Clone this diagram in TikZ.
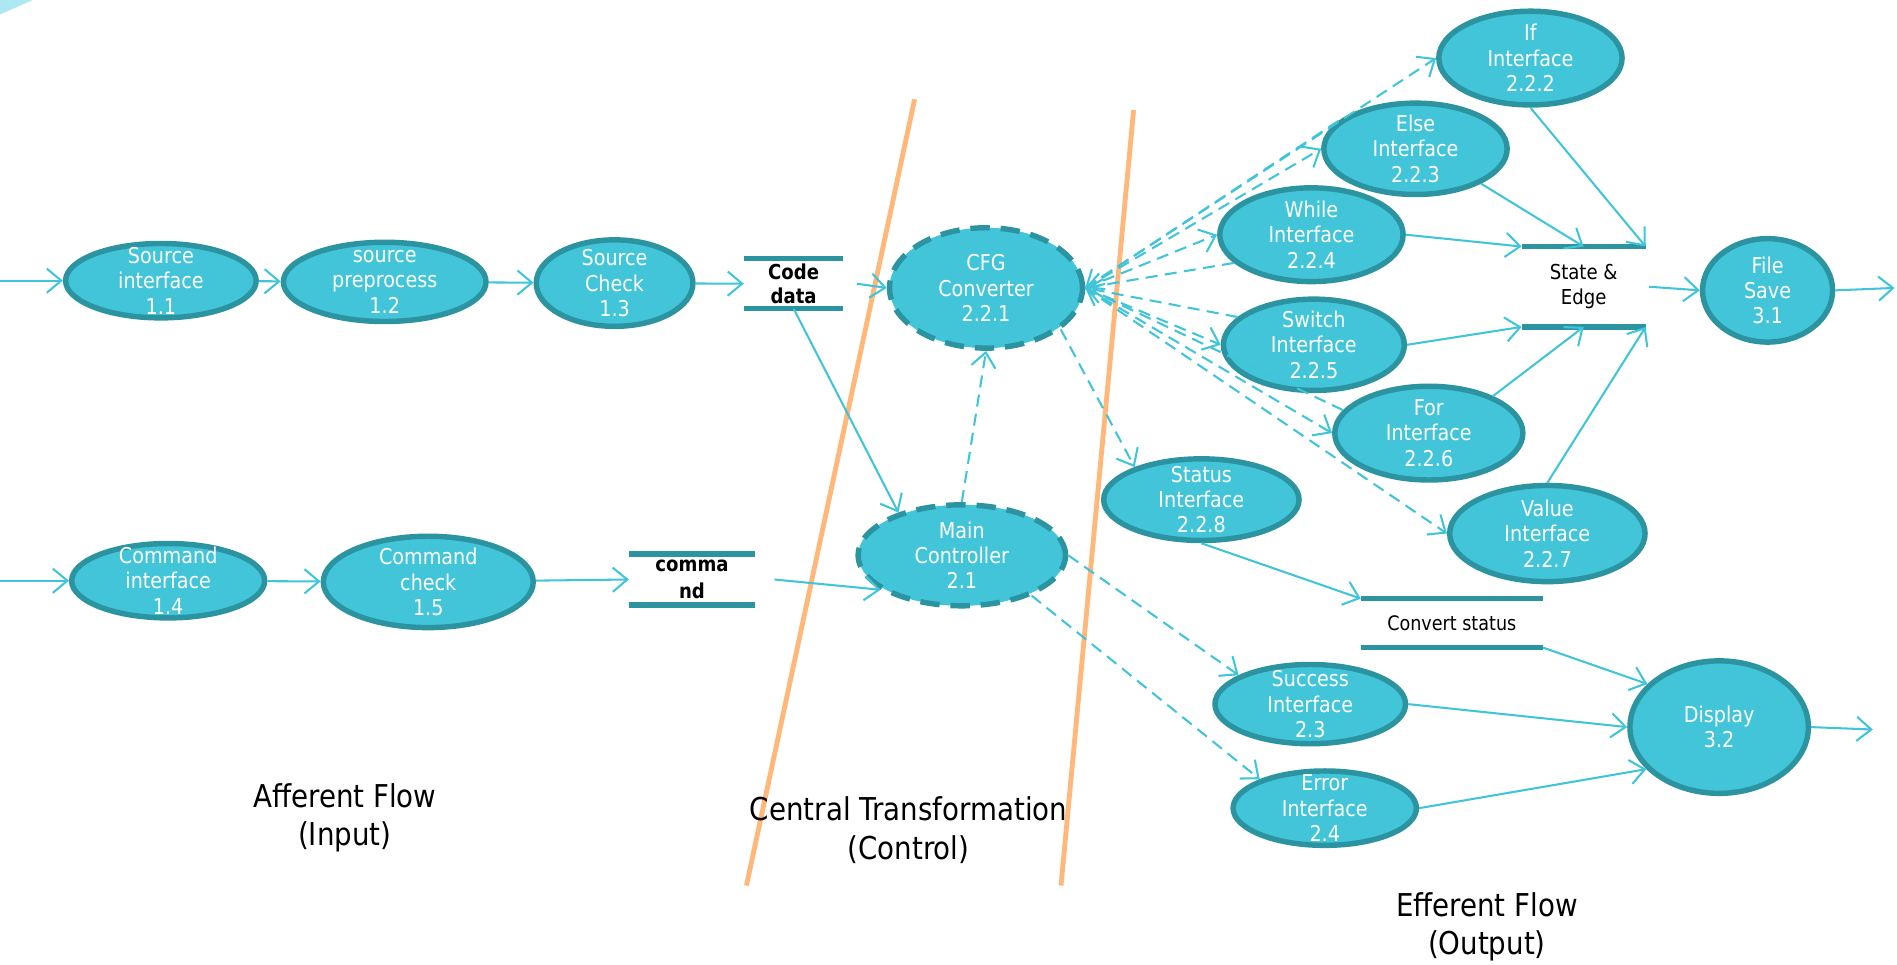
\documentclass[tikz,border=0pt]{standalone}
\usepackage{fontspec}
\setmainfont{DejaVu Sans}[FakeStretch=0.88]
\usetikzlibrary{arrows.meta,shapes.geometric}
\definecolor{nodefill}{RGB}{66,197,217}
\definecolor{nodeedge}{RGB}{43,148,160}
\definecolor{flowc}{RGB}{64,196,216}
\definecolor{divc}{RGB}{255,183,122}
\definecolor{cornerc}{RGB}{172,232,242}
\begin{document}
\begin{tikzpicture}[x=1pt,y=-1pt,
  proc/.style={ellipse, draw=nodeedge, fill=nodefill, line width=4.5pt, inner sep=0pt},
  ctrlproc/.style={proc, dash pattern=on 16pt off 9pt},
  ptext/.style={text=white, align=center, font=\fontsize{18}{21}\selectfont, inner sep=0pt},
  store/.style={rectangle, inner sep=0pt, align=center, text=black},
  bar/.style={draw=nodeedge, line width=4.5pt},
  flow/.style={draw=flowc, line width=1.7pt, -{Straight Barb[length=12pt,width=20pt]}},
  ctl/.style={flow, dash pattern=on 10pt off 6pt},
  divider/.style={draw=divc, line width=4pt},
  zone/.style={align=center, font=\fontsize{26}{32}\selectfont, text=black},
]
\useasboundingbox (0,0) rectangle (1568,797);
\fill[cornerc] (0,0) -- (27,0) -- (0,12) -- cycle;

% region dividers and captions
\coordinate (d1a) at (756,82);  \coordinate (d1b) at (617,732);
\coordinate (d2a) at (937,91);  \coordinate (d2b) at (877,732);
\draw[divider] (d1a) -- (d1b);
\draw[divider] (d2a) -- (d2b);
\node[zone] (zin)  at (285,676) {Afferent Flow\\(Input)};
\node[zone] (zctl) at (751,686) {Central Transformation\\(Control)};
\node[zone] (zout) at (1229,766) {Efferent Flow\\(Output)};

% afferent processes
\node[proc, minimum width=157.5pt, minimum height=61.5pt, label={[ptext]center:Source\\interface\\1.1}] (si) at (133,232) {};
\node[proc, minimum width=167.5pt, minimum height=65.5pt, label={[ptext]center:source\\preprocess\\1.2}] (sp) at (318,233) {};
\node[proc, minimum width=129.5pt, minimum height=71.5pt, label={[ptext]center:Source\\Check\\1.3}] (sc) at (508,234) {};
\node[proc, minimum width=159.5pt, minimum height=61.5pt, label={[ptext]center:Command\\interface\\1.4}] (ci) at (139,480) {};
\node[proc, minimum width=173.5pt, minimum height=75.5pt, label={[ptext]center:Command\\check\\1.5}] (cc) at (354,481) {};

% data stores
\node[store, minimum width=82pt, minimum height=41pt, font=\bfseries\fontsize{17}{20}\selectfont] (cd) at (656,234.5) {Code\\data};
\node[store, minimum width=104pt, minimum height=42pt, font=\bfseries\fontsize{17}{22}\selectfont] (cs) at (572,479) {comma\\nd};
\node[store, minimum width=102pt, minimum height=66pt, font=\fontsize{17}{21}\selectfont] (se) at (1309,237) {State \&\\Edge};
\node[store, minimum width=150pt, minimum height=40pt, font=\fontsize{16.5}{20}\selectfont] (cv) at (1200,515) {Convert status};
\foreach \s in {cd,cs,se,cv} {
  \draw[bar] (\s.north west) -- (\s.north east);
  \draw[bar] (\s.south west) -- (\s.south east);
}

% central transform
\node[ctrlproc, minimum width=159.5pt, minimum height=99.5pt, label={[ptext]center:CFG\\Converter\\2.2.1}] (cfg) at (815,238) {};
\node[ctrlproc, minimum width=171.5pt, minimum height=83.5pt, label={[ptext]center:Main\\Controller\\2.1}] (mc) at (795,459) {};

% efferent processes
\node[proc, minimum width=151.5pt, minimum height=77.5pt, label={[ptext]center:If\\Interface\\2.2.2}] (ifi) at (1265,48) {};
\node[proc, minimum width=151.5pt, minimum height=75.5pt, label={[ptext]center:Else\\Interface\\2.2.3}] (el) at (1170,123) {};
\node[proc, minimum width=151.5pt, minimum height=77.5pt, label={[ptext]center:While\\Interface\\2.2.4}] (wh) at (1084,194) {};
\node[proc, minimum width=149.5pt, minimum height=75.5pt, label={[ptext]center:Switch\\Interface\\2.2.5}] (sw) at (1086,285) {};
\node[proc, minimum width=155.5pt, minimum height=77.5pt, label={[ptext]center:For\\Interface\\2.2.6}] (fo) at (1181,358) {};
\node[proc, minimum width=161.5pt, minimum height=79.5pt, label={[ptext]center:Value\\Interface\\2.2.7}] (va) at (1279,441) {};
\node[proc, minimum width=161.5pt, minimum height=67.5pt, label={[ptext]center:Status\\Interface\\2.2.8}] (st) at (993,413) {};
\node[proc, minimum width=107.5pt, minimum height=85.5pt, label={[ptext]center:File\\Save\\3.1}] (fs) at (1461,240) {};
\node[proc, minimum width=157.5pt, minimum height=65.5pt, label={[ptext]center:Success\\Interface\\2.3}] (su) at (1083,582) {};
\node[proc, minimum width=151.5pt, minimum height=61.5pt, label={[ptext]center:Error\\Interface\\2.4}] (er) at (1095,668) {};
\node[proc, minimum width=147.5pt, minimum height=109.5pt, label={[ptext]center:Display\\3.2}] (dp) at (1421,601) {};

% free ends
\coordinate (in1) at (0,232);
\coordinate (in2) at (0,480);
\coordinate (out1) at (1566,238);
\coordinate (out2) at (1548,603);

% afferent flows
\draw[flow] (in1) -- (si);
\draw[flow] (si) -- (sp);
\draw[flow] (sp) -- (sc);
\draw[flow] (sc) -- (cd.west);
\draw[flow] (in2) -- (ci);
\draw[flow] (ci) -- (cc);
\draw[flow] (cc) -- (cs.west);
\draw[flow] ([xshift=11pt]cd.east) -- (cfg.west);
\draw[flow] (cd.south) -- (mc.146);
\draw[flow] ([xshift=16pt]cs.east) -- (mc.203);

% control flows
\draw[ctl] (mc.north) -- (cfg.south);
\draw[ctl] (cfg.east) -- (ifi.west);
\draw[ctl] (cfg.east) -- (el.west);
\draw[ctl] (cfg.east) -- (wh.west);
\draw[ctl] (cfg.east) -- (sw.west);
\draw[ctl] (cfg.east) -- (fo.west);
\draw[ctl] (cfg.east) -- (va.west);
\draw[ctl] (el.160) -- (cfg.east);
\draw[ctl] (wh.200) -- (cfg.east);
\draw[ctl] (sw.160) -- (cfg.east);
\draw[ctl] (fo.165) -- (cfg.east);
\draw[ctl] (cfg.331) -- (st.154);
\draw[ctl] (mc.east) -- (su.158);
\draw[ctl] (mc.330) -- (er.156);

% efferent flows
\draw[flow] (wh.east) -- (se.north west);
\draw[flow] (el.332) -- (se.north);
\draw[flow] (ifi.south) -- (se.north east);
\draw[flow] (sw.east) -- (se.south west);
\draw[flow] (fo.30) -- (se.south);
\draw[flow] (va.north) -- (se.south east);
\draw[flow] ([xshift=3pt]se.east) -- (fs.west);
\draw[flow] (fs.east) -- (out1);
\draw[flow] (st.south) -- (cv.north west);
\draw[flow] (cv.south east) -- (dp.149);
\draw[flow] (su.east) -- (dp.west);
\draw[flow] (er.east) -- (dp.210);
\draw[flow] (dp.east) -- (out2);
\end{tikzpicture}
\end{document}
